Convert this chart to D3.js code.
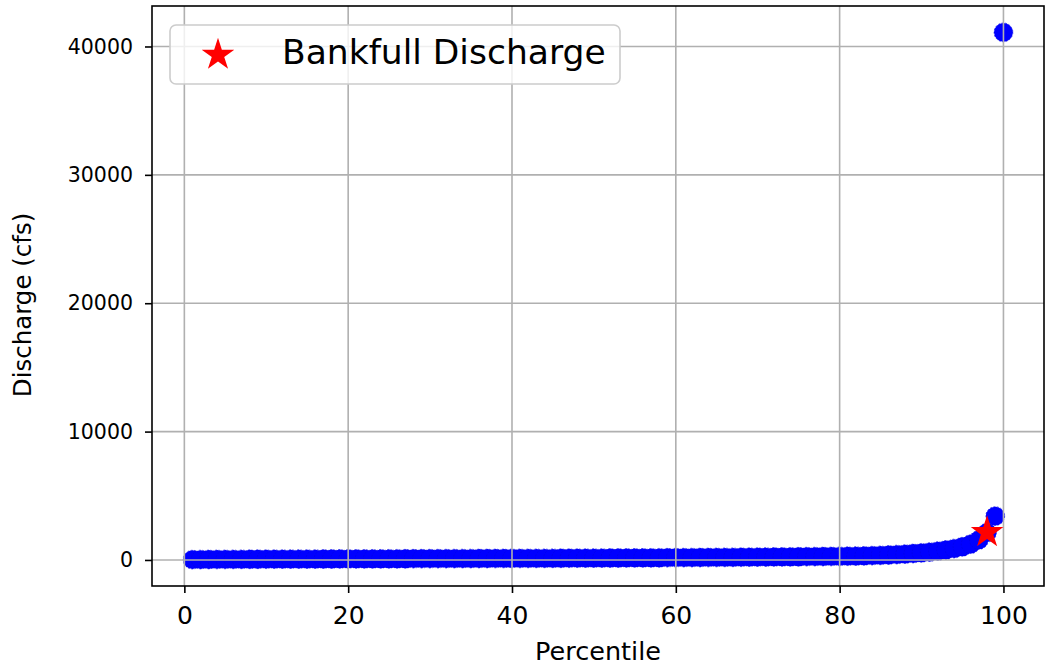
<!DOCTYPE html>
<html>
<head>
<meta charset="utf-8">
<script src="https://cdn.jsdelivr.net/npm/d3@7"></script>
<style>
  html, body { margin: 0; padding: 0; background: #fff; }
  svg text { font-family: "DejaVu Sans", sans-serif; fill: #000; }
</style>
</head>
<body>
<svg id="chart" width="1046" height="669"></svg>
<script>
// ---- data ----
const percentiles = d3.range(1, 101);
const discharge = [
  25, 32, 37, 41, 45, 48, 51, 54, 57, 60,
  62, 64, 66, 68, 70, 72, 74, 76, 78, 80,
  82, 84, 86, 88, 90, 92, 94, 96, 98, 100,
  102, 104, 106, 108, 110, 112, 114, 116, 118, 120,
  122, 124, 126, 128, 130, 133, 136, 139, 142, 145,
  148, 151, 154, 157, 160, 163, 166, 170, 174, 178,
  182, 186, 190, 194, 198, 203, 208, 213, 218, 223,
  228, 233, 238, 244, 250, 256, 262, 268, 275, 282,
  292, 305, 320, 338, 360, 388, 420, 458, 502, 555,
  615, 690, 780, 890, 1030, 1230, 1560, 2130, 3420, 41100
];
const bankfullPercentile = [98];
const bankfullDischarge = [2150];
const xTicks = [0, 20, 40, 60, 80, 100];
const yTicks = [0, 10000, 20000, 30000, 40000];
const legendLabels = ["Bankfull Discharge"];
const xLabel = "Percentile";
const yLabel = "Discharge (cfs)";

// ---- layout ----
const svg = d3.select("#chart");
const L = 152, R = 1044, T = 6, B = 586;

function padDomain(ext) {
  const d = (ext[1] - ext[0]) * 0.05;
  return [ext[0] - d, ext[1] + d];
}
const x = d3.scaleLinear().domain(padDomain(d3.extent(percentiles))).range([L, R]);
const y = d3.scaleLinear().domain(padDomain(d3.extent(discharge))).range([B, T]);

const gridColor = "#b0b0b0";

// points (below grid, like matplotlib scatter zorder)
svg.append("g").selectAll("circle")
  .data(percentiles.map((p, i) => [p, discharge[i]]))
  .join("circle")
  .attr("cx", d => x(d[0]))
  .attr("cy", d => y(d[1]))
  .attr("r", 9.4)
  .attr("fill", "#0000ff")
  .attr("stroke", "#0000e0")
  .attr("stroke-width", 0.6)
  .attr("stroke-dasharray", "2,1.5");

// grid
const grid = svg.append("g");
grid.selectAll(".vg").data(xTicks).join("line")
  .attr("x1", d => x(d)).attr("x2", d => x(d))
  .attr("y1", T).attr("y2", B)
  .attr("stroke", gridColor).attr("stroke-width", 1.6);
grid.selectAll(".hg").data(yTicks).join("line")
  .attr("x1", L).attr("x2", R)
  .attr("y1", d => y(d)).attr("y2", d => y(d))
  .attr("stroke", gridColor).attr("stroke-width", 1.6);

// star marker
const star = d3.symbol().type(d3.symbolStar).size(330);
svg.append("g").selectAll("path")
  .data(bankfullPercentile.map((p, i) => [p, bankfullDischarge[i]]))
  .join("path")
  .attr("d", star)
  .attr("transform", d => `translate(${x(d[0])},${y(d[1])})`)
  .attr("fill", "#ff0000");

// axes
const xAxis = d3.axisBottom(x).tickValues(xTicks).tickSize(7).tickPadding(13).tickFormat(d3.format("d"));
const yAxis = d3.axisLeft(y).tickValues(yTicks).tickSize(7).tickPadding(12).tickFormat(d3.format("d"));

const gx = svg.append("g").attr("transform", `translate(0,${B})`).call(xAxis);
const gy = svg.append("g").attr("transform", `translate(${L},0)`).call(yAxis);
[gx, gy].forEach(g => {
  g.select(".domain").remove();
  g.selectAll(".tick line").attr("stroke", "#000").attr("stroke-width", 1.6);
  g.selectAll(".tick text").attr("font-family", "DejaVu Sans").attr("fill", "#000");
});
gx.selectAll(".tick text").attr("font-size", 25);
gy.selectAll(".tick text").attr("font-size", 20.5);

// spines
svg.append("rect")
  .attr("x", L).attr("y", T).attr("width", R - L).attr("height", B - T)
  .attr("fill", "none").attr("stroke", "#000").attr("stroke-width", 1.6);

// axis labels
svg.append("text")
  .attr("x", (L + R) / 2).attr("y", 660)
  .attr("text-anchor", "middle").attr("font-size", 25.5)
  .text(xLabel);
svg.append("text")
  .attr("transform", `translate(31,${(T + B) / 2 + 9}) rotate(-90)`)
  .attr("text-anchor", "middle").attr("font-size", 24.5)
  .text(yLabel);

// legend
const lg = svg.append("g");
lg.append("rect")
  .attr("x", 170).attr("y", 25).attr("width", 450).attr("height", 59)
  .attr("rx", 6).attr("ry", 6)
  .attr("fill", "#ffffff").attr("fill-opacity", 0.8)
  .attr("stroke", "#cccccc").attr("stroke-width", 1.6);
lg.append("path")
  .attr("d", star)
  .attr("transform", "translate(218,55)")
  .attr("fill", "#ff0000");
lg.append("text")
  .attr("x", 282).attr("y", 64)
  .attr("font-size", 34.5)
  .text(legendLabels[0]);
</script>
</body>
</html>
